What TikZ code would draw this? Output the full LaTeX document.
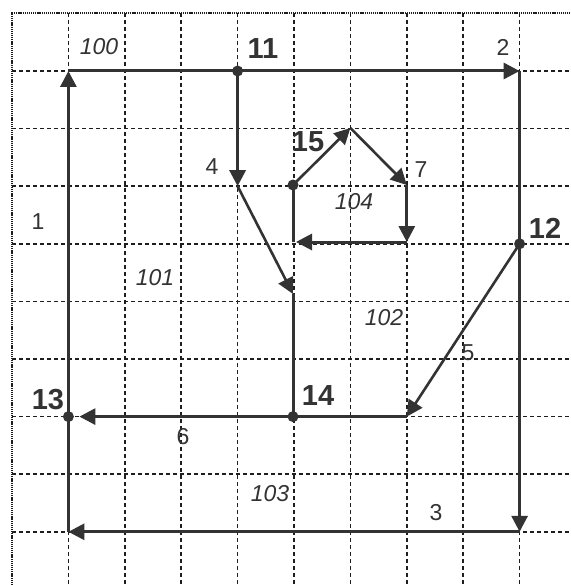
\documentclass[tikz,border=0pt]{standalone}
\usepackage{fontspec}
\setmainfont{Liberation Sans}
\usetikzlibrary{arrows.meta}
\definecolor{ink}{HTML}{333333}
\definecolor{gridc}{HTML}{1e1e1e}
\tikzset{
  gridline/.style={gridc, line width=1.6pt, dash pattern=on 4pt off 3pt},
  borderline/.style={gridc, line width=2.6pt, dash pattern=on 1.1pt off 0.8pt},
  edge/.style={ink, line width=3pt, line join=miter},
  thinedge/.style={ink, line width=2.6pt},
  arr/.style={-{Triangle[length=16pt,width=16pt]}},
  dotmark/.style={circle, fill=ink, inner sep=0pt, minimum size=11pt},
  lab/.style={ink, font=\fontsize{23}{26}\selectfont},
  ilab/.style={ink, font=\fontsize{23}{26}\selectfont\itshape},
  blab/.style={ink, font=\fontsize{29}{32}\selectfont\bfseries},
}
\begin{document}
\begin{tikzpicture}[x=1pt,y=-1pt]
\useasboundingbox (0,0) rectangle (570,585);
\fill[white] (0,0) rectangle (570,585);
% grid
\foreach \i in {1,...,9}{
  \draw[gridline] ({12+56.4*\i},13) -- ({12+56.4*\i},585);
  \draw[gridline] (12,{13.4+57.6*\i}) -- (570,{13.4+57.6*\i});
}
\draw[borderline] (12,585) -- (12,13) -- (570,13);
% points
\coordinate (c1) at (68.4,71);
\coordinate (c2) at (519.6,71);
\coordinate (c3) at (519.6,531.8);
\coordinate (c4) at (68.4,531.8);
\coordinate (n11) at (237.6,71);
\coordinate (n12) at (519.6,243.8);
\coordinate (n13) at (68.4,416.6);
\coordinate (n14) at (293,416.6);
\coordinate (n15) at (293,185);
\coordinate (a4) at (237.6,186.2);
\coordinate (b4) at (293,294);
\coordinate (p1) at (350.4,128);
\coordinate (p2) at (406.8,185);
\coordinate (p3) at (406.8,242);
\coordinate (p4) at (293,242);
\coordinate (v5) at (406.8,416.6);
% outer edges
\draw[edge,arr] (c1) -- (c2);
\draw[edge,arr] (c2) -- (c3);
\draw[edge,arr] (c3) -- (c4);
\draw[edge,arr] (c4) -- (c1);
% edge 4
\draw[edge,arr] (n11) -- (a4);
\draw[thinedge,arr] (a4) -- (b4);
\draw[edge] (b4) -- (n14);
% pentagon
\draw[thinedge,arr] (n15) -- (p1);
\draw[thinedge,arr] (p1) -- (p2);
\draw[edge,arr] (p2) -- (p3);
\draw[edge,arr,shorten >=3pt] (p3) -- (p4);
\draw[edge] (p4) -- (n15);
% edge 5
\draw[thinedge,arr] (n12) -- (v5);
\draw[edge] (v5) -- (n14);
% edge 6
\draw[edge,arr,shorten >=11pt] (n14) -- (n13);
% dots
\node[dotmark] (d11) at (n11) {};
\node[dotmark] (d12) at (n12) {};
\node[dotmark] (d13) at (n13) {};
\node[dotmark] (d14) at (n14) {};
\node[dotmark] (d15) at (n15) {};
% labels
\node[ilab] (l100) at (99,47) {100};
\node[blab] (l11) at (263,49) {11};
\node[lab] (l2) at (503,47) {2};
\node[lab] (l4) at (212,167) {4};
\node[blab] (l15) at (308,142) {15};
\node[lab] (l7) at (421,170) {7};
\node[ilab] (l104) at (354,202) {104};
\node[lab] (l1) at (38,222) {1};
\node[blab] (l12) at (545,228) {12};
\node[ilab] (l101) at (155,278) {101};
\node[ilab] (l102) at (384,318) {102};
\node[lab] (l5) at (468,353) {5};
\node[blab] (l13) at (48,400) {13};
\node[blab] (l14) at (318,396) {14};
\node[lab] (l6) at (183,437) {6};
\node[ilab] (l103) at (270,494) {103};
\node[lab] (l3) at (436,513) {3};
\end{tikzpicture}
\end{document}
